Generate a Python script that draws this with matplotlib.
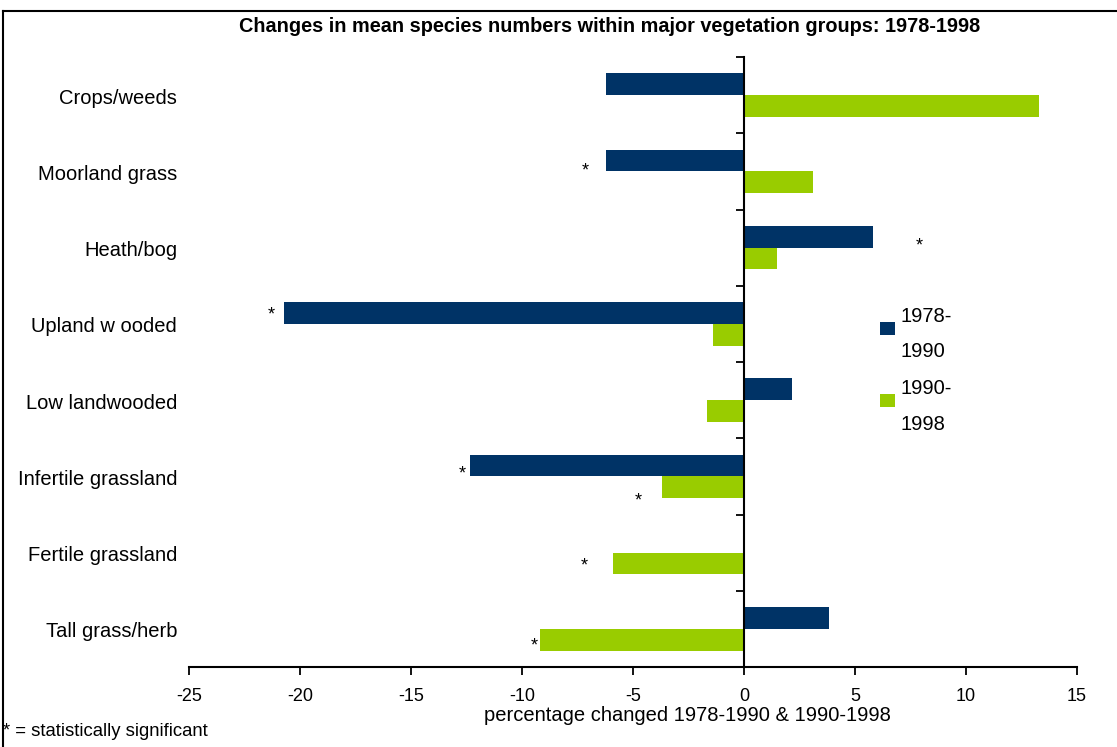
import matplotlib
matplotlib.use("Agg")
import matplotlib.pyplot as plt
import matplotlib.transforms as mtransforms
from matplotlib.patches import Patch, Rectangle
from matplotlib.lines import Line2D
from matplotlib.legend_handler import HandlerPatch
import numpy as np

plt.rcParams['font.family'] = ['Liberation Sans', 'DejaVu Sans']

categories = ["Crops/weeds", "Moorland grass", "Heath/bog", "Upland w ooded",
              "Low landwooded", "Infertile grassland", "Fertile grassland",
              "Tall grass/herb"]
series_names = ["1978-\n1990", "1990-\n1998"]
vals_1978_1990 = [-6.2, -6.2, 5.8, -20.7, 2.15, -12.35, 0.0, 3.85]
vals_1990_1998 = [13.3, 3.1, 1.5, -1.4, -1.65, -3.7, -5.9, -9.2]
colors = ["#003366", "#99CC00"]

# significance markers: (category index, series index, x position of '*', vertical nudge in points)
star_cat = [1, 2, 3, 5, 5, 6, 7]
star_series = [0, 0, 0, 0, 1, 1, 1]
star_x = [-7.15, 7.9, -21.3, -12.7, -4.75, -7.2, -9.45]
star_dy = [-7.3, -6.5, -1.5, -6.0, -10.0, -2.0, -4.5]

xticks = [-25, -20, -15, -10, -5, 0, 5, 10, 15]

fig = plt.figure(figsize=(11.17, 7.47), dpi=100)
W, H = 1117, 747
ax = fig.add_axes([189 / W, 1 - 667 / H, (1077 - 189) / W, (667 - 57) / H])

n = len(categories)
y = np.arange(n)
bh = 0.285
ax.barh(y - bh / 2, vals_1978_1990, height=bh, color=colors[0], label=series_names[0], zorder=2)
ax.barh(y + bh / 2, vals_1990_1998, height=bh, color=colors[1], label=series_names[1], zorder=2)

ax.set_xlim(-25, 15)
ax.set_ylim(n - 0.5, -0.5)
ax.set_xticks(xticks)
ax.set_xticklabels([str(t) for t in xticks], fontsize=13)
ax.tick_params(axis='x', direction='out', length=6, width=1.3, pad=9)

# left spine at zero, category boundary ticks
ax.spines['left'].set_position(('data', 0))
ax.spines['left'].set_linewidth(1.5)
ax.spines['bottom'].set_linewidth(1.5)
ax.spines['top'].set_visible(False)
ax.spines['right'].set_visible(False)
ax.set_yticks(np.arange(n + 1) - 0.5)
ax.set_yticklabels([])
ax.tick_params(axis='y', direction='out', length=6, width=1.3)

trans = mtransforms.blended_transform_factory(ax.transAxes, ax.transData) + \
    mtransforms.ScaledTranslation(0, -3 / 100, fig.dpi_scale_trans)
for i, c in enumerate(categories):
    ax.text(-0.0135, i, c, transform=trans, ha='right', va='center', fontsize=14.5)

for ci, si, sx, dy in zip(star_cat, star_series, star_x, star_dy):
    yy = ci + (-bh / 2 if si == 0 else bh / 2)
    ax.annotate('*', xy=(sx, yy), xytext=(0, dy), textcoords='offset points',
                ha='center', va='center', fontsize=13)

ax.set_xlabel("percentage changed 1978-1990 & 1990-1998", fontsize=14.5, labelpad=1)
ax.xaxis.label.set_x((687 - 189) / 888)


def raised_square(legend, orig_handle, xdescent, ydescent, width, height, fontsize):
    return Rectangle((-xdescent, -ydescent + 4.5), width, height)


handles = [Patch(facecolor=colors[0]), Patch(facecolor=colors[1])]
leg = ax.legend(handles, series_names, loc='upper left', bbox_to_anchor=(862 / W, 1 - 289 / H),
                bbox_transform=fig.transFigure, frameon=False, fontsize=14.5,
                handlelength=0.75, handleheight=0.65, handletextpad=0.25, labelspacing=0.9,
                handler_map={Patch: HandlerPatch(patch_func=raised_square)})
for t in leg.get_texts():
    t.set_linespacing(2.08)

fig.text(610 / W, 1 - 27 / H, "Changes in mean species numbers within major vegetation groups: 1978-1998",
         ha='center', va='center', fontsize=14.3, fontweight='bold')
fig.text(3 / W, 1 - 731 / H, "* = statistically significant", ha='left', va='center', fontsize=13.3)

# figure border (top and left visible)
fig.add_artist(Line2D([3 / W, 3 / W], [0, 1 - 11 / H], transform=fig.transFigure, color='black', lw=1.5))
fig.add_artist(Line2D([3 / W, 1], [1 - 11 / H, 1 - 11 / H], transform=fig.transFigure, color='black', lw=1.5))

fig.savefig("out.png", dpi=100)
